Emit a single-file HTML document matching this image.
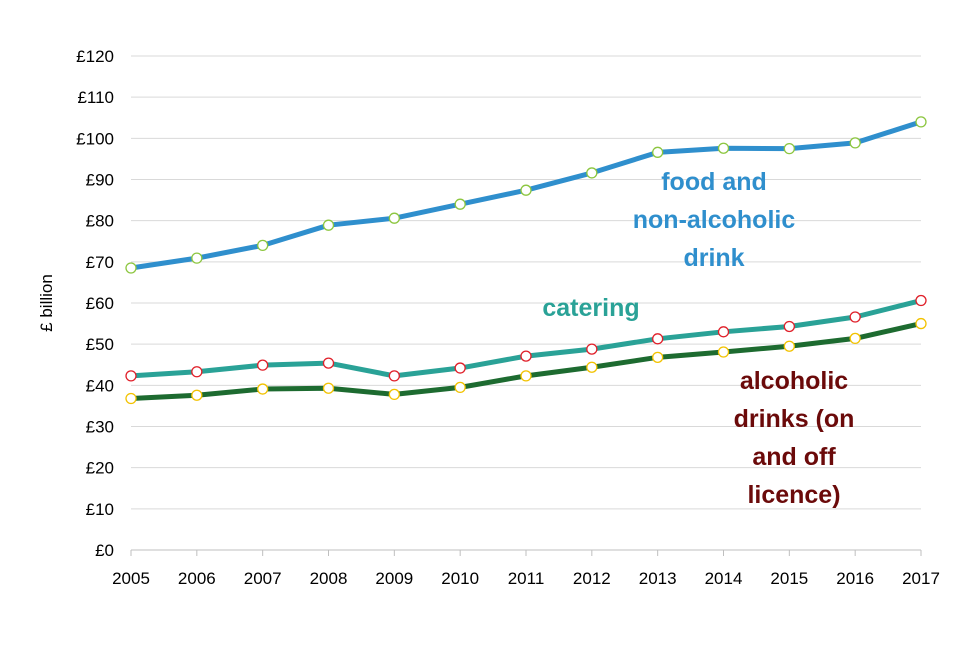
<!DOCTYPE html>
<html><head><meta charset="utf-8"><style>
body{margin:0;background:#fff;font-family:"Liberation Sans",sans-serif}
svg text{font-family:"Liberation Sans",sans-serif}
</style></head><body>
<svg width="960" height="640" id="c"></svg>
<script>
const years=[2005,2006,2007,2008,2009,2010,2011,2012,2013,2014,2015,2016,2017];
const food=[68.5,70.9,74.0,78.9,80.6,84.0,87.4,91.6,96.6,97.6,97.5,98.9,104.0];
const catering=[42.3,43.3,44.9,45.4,42.3,44.2,47.1,48.8,51.3,53.0,54.3,56.6,60.6];
const alcohol=[36.8,37.6,39.1,39.3,37.8,39.5,42.3,44.4,46.8,48.1,49.5,51.4,55.0];
const yTicks=[0,10,20,30,40,50,60,70,80,90,100,110,120];
const NS="http://www.w3.org/2000/svg",svg=document.getElementById('c');
const x=i=>131+i*(921-131)/(years.length-1);
const y=v=>550-v*(550-56)/120;
function el(t,a,p){const e=document.createElementNS(NS,t);for(const k in a)e.setAttribute(k,a[k]);(p||svg).appendChild(e);return e;}
yTicks.forEach(t=>{
 const g=el('line',{x1:131,x2:921,y1:y(t),y2:y(t),stroke:t===0?'#bfbfbf':'#d9d9d9','stroke-width':1});
 
 
 const l=el('text',{x:114,y:y(t)+6,'text-anchor':'end','font-size':17,fill:'#000'});l.textContent='£'+t;
 
 
});
years.forEach((yr,i)=>{
 const tk=el('line',{x1:x(i),x2:x(i),y1:550,y2:556,stroke:'#bfbfbf'});
 
 
 const l=el('text',{x:x(i),y:584,'text-anchor':'middle','font-size':17,fill:'#000'});l.textContent=yr;
 
 
});
const yt=el('text',{x:0,y:0,transform:'translate(52,303) rotate(-90)','text-anchor':'middle','font-size':17});yt.textContent='£ billion';


function series(vals,color,mk,name){
 const p=el('polyline',{points:vals.map((v,i)=>x(i)+','+y(v)).join(' '),fill:'none',stroke:color,'stroke-width':5,'stroke-linejoin':'round'});
 
 
 vals.forEach((v,i)=>{
  const c=el('circle',{cx:x(i),cy:y(v),r:5,fill:'#fff',stroke:mk,'stroke-width':1.3});
  
  
 });
}
series(alcohol,'#1d6b30','#f2c200','alcohol');
series(catering,'#2aa297','#e0202a','catering');
series(food,'#2f8fcd','#8cc63f','food');
function label(lines,cx,y0,color,name){
 const t=el('text',{x:cx,y:y0,'text-anchor':'middle','font-size':25,'font-weight':'bold',fill:color});
 
 
 lines.forEach((s,i)=>{const ts=el('tspan',{x:cx,dy:i?38:0},t);ts.textContent=s;});
}
label(['food and','non-alcoholic','drink'],714,190,'#2f8fcd','food-label');
label(['catering'],591,316,'#2aa297','catering-label');
label(['alcoholic','drinks (on','and off','licence)'],794,389,'#6b0a0a','alcohol-label');
</script>
</body></html>
